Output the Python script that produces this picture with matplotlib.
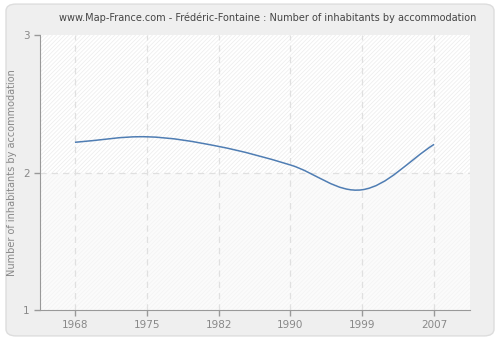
import numpy as np
import matplotlib
matplotlib.use("Agg")
import matplotlib.pyplot as plt
from matplotlib.path import Path
from matplotlib.patches import PathPatch, FancyBboxPatch

years = [1968, 1975, 1982, 1990, 1999, 2007]
values = [2.22, 2.26, 2.19, 2.055, 1.875, 2.205]
yticks = [1, 2, 3]
title = "www.Map-France.com - Frédéric-Fontaine : Number of inhabitants by accommodation"
ylabel = "Number of inhabitants by accommodation"

plt.rcParams["hatch.linewidth"] = 0.5


def smooth_path(xs, ys, k=0.3):
    # cubic bezier segments, catmull-rom style tangents
    xs = np.asarray(xs, float)
    ys = np.asarray(ys, float)
    n = len(xs)
    verts = [(xs[0], ys[0])]
    codes = [Path.MOVETO]
    for i in range(n - 1):
        p0 = i - 1 if i > 0 else i
        p3 = i + 2 if i + 2 < n else i + 1
        dx1 = (xs[i + 1] - xs[p0]) * k / (2 if i > 0 else 1)
        dy1 = (ys[i + 1] - ys[p0]) * k / (2 if i > 0 else 1)
        dx2 = (xs[p3] - xs[i]) * k / (2 if i + 2 < n else 1)
        dy2 = (ys[p3] - ys[i]) * k / (2 if i + 2 < n else 1)
        verts += [(xs[i] + dx1, ys[i] + dy1),
                  (xs[i + 1] - dx2, ys[i + 1] - dy2),
                  (xs[i + 1], ys[i + 1])]
        codes += [Path.CURVE4] * 3
    return Path(verts, codes)


fig = plt.figure(figsize=(5, 3.4), dpi=100)
fig.patch.set_facecolor("white")
bg = FancyBboxPatch((0.012, 0.012), 0.976, 0.976, boxstyle="round,pad=0,rounding_size=0.02",
                    transform=fig.transFigure, facecolor="#efefef", edgecolor="#dddddd",
                    linewidth=1, zorder=-10)
fig.patches.append(bg)

ax = fig.add_axes([0.08, 0.088, 0.86, 0.809])
ax.set_facecolor("#fbfbfb")
pos = np.arange(len(years))
ax.set_xlim(-0.487, 5.5)
ax.set_ylim(1, 3)

# hatched background, stronger above 2
ax.add_patch(plt.Rectangle((-1, 2), 8, 1, facecolor="#ffffff", edgecolor="#ececec",
                           hatch="////////", linewidth=0, zorder=0))
ax.add_patch(plt.Rectangle((-1, 1), 8, 1, facecolor="#fbfbfb", edgecolor="#f3f3f3",
                           hatch="////////", linewidth=0, zorder=0))

for p in pos:
    ax.axvline(p, color="#e0e0e0", linestyle=(0, (5, 4)), linewidth=0.9, zorder=1)
ax.axhline(2, color="#e0e0e0", linestyle=(0, (5, 4)), linewidth=0.9, zorder=1)

ax.add_patch(PathPatch(smooth_path(pos, values, k=0.35), facecolor="none",
                       edgecolor="#4f7db3", linewidth=1.1, zorder=3))

ax.set_xticks(pos)
ax.set_xticklabels([str(y) for y in years])
ax.set_yticks(yticks)
ax.tick_params(axis="both", colors="#999999", labelcolor="#888888", labelsize=7.5,
               length=4, width=1, direction="out")
for s in ["top", "right"]:
    ax.spines[s].set_visible(False)
for s in ["left", "bottom"]:
    ax.spines[s].set_color("#999999")

ax.set_ylabel(ylabel, color="#888888", fontsize=7)
fig.text(0.535, 0.947, title, ha="center", va="center", color="#444444", fontsize=7)

fig.savefig("out.png", dpi=100, facecolor=fig.get_facecolor())
